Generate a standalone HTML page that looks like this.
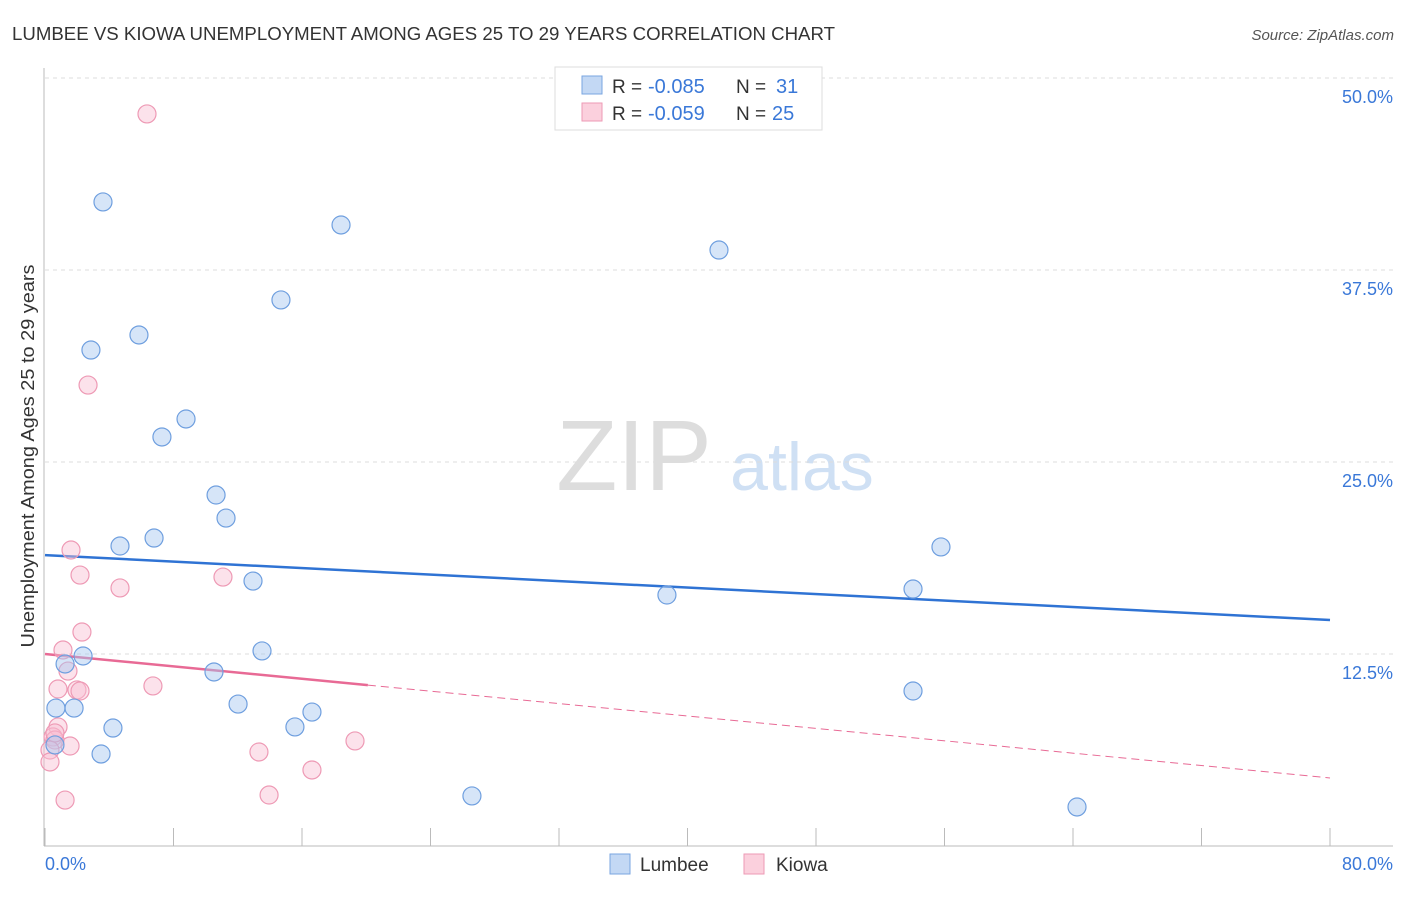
<!DOCTYPE html>
<html><head><meta charset="utf-8"><style>
body{margin:0;background:#fff;font-family:"Liberation Sans",sans-serif;}
svg text{font-family:"Liberation Sans",sans-serif;}
</style></head><body>
<svg id="c" width="1406" height="892" xmlns="http://www.w3.org/2000/svg">
<text x="12" y="40" font-size="18" fill="#333" textLength="823" lengthAdjust="spacingAndGlyphs">LUMBEE VS KIOWA UNEMPLOYMENT AMONG AGES 25 TO 29 YEARS CORRELATION CHART</text>
<text x="1394" y="40" font-size="15" fill="#555" text-anchor="end" font-style="italic">Source: ZipAtlas.com</text>
<text x="634" y="490" font-size="100" fill="#ddd" font-family="Liberation Serif" text-anchor="middle">ZIP</text>
<text x="802" y="490" font-size="68" fill="#cfe0f4" text-anchor="middle">atlas</text>
<g id="grid"></g>
<line x1="44" y1="68" x2="44" y2="846" stroke="#bbb"/>
<line x1="44" y1="846" x2="1393" y2="846" stroke="#bbb"/>
<g id="ticks"></g>
<text x="34" y="456" font-size="18" fill="#333" text-anchor="middle" textLength="383" lengthAdjust="spacingAndGlyphs" transform="rotate(-90 34 456)">Unemployment Among Ages 25 to 29 years</text>
<g id="trend"></g>
<g id="pts"></g>
<g>
<rect x="555" y="67" width="267" height="63" fill="#fff" stroke="#ddd"/>
<rect x="582" y="76" width="20" height="18" fill="#c3d8f4" stroke="#7aa6e0"/>
<rect x="582" y="103" width="20" height="18" fill="#fbd0dd" stroke="#ee9ab5"/>
<text x="612" y="93" font-size="19" fill="#333">R =</text>
<text x="648" y="93" font-size="20" fill="#3a78d8">-0.085</text>
<text x="736" y="93" font-size="19" fill="#333">N =</text>
<text x="776" y="93" font-size="20" fill="#3a78d8">31</text>
<text x="612" y="120" font-size="19" fill="#333">R =</text>
<text x="648" y="120" font-size="20" fill="#3a78d8">-0.059</text>
<text x="736" y="120" font-size="19" fill="#333">N =</text>
<text x="772" y="120" font-size="20" fill="#3a78d8">25</text>
</g>
<g>
<rect x="610" y="854" width="20" height="20" fill="#c3d8f4" stroke="#7aa6e0"/>
<text x="640" y="871" font-size="19" fill="#333">Lumbee</text>
<rect x="744" y="854" width="20" height="20" fill="#fbd0dd" stroke="#ee9ab5"/>
<text x="776" y="871" font-size="19" fill="#333">Kiowa</text>
</g>
</svg>
<script>
const xMin=0,xMax=80,yMin=0,yMax=50;
const yTicks=[12.5,25,37.5,50];
const yTickLabels=["12.5%","25.0%","37.5%","50.0%"];
const xTickLabels=["0.0%","80.0%"];
const lumbeeX=[3.61,18.43,41.96,14.69,2.86,5.85,8.78,7.28,10.65,11.27,4.67,6.79,12.95,38.72,54.04,55.78,2.37,1.25,13.51,10.52,54.04,0.68,1.81,12.02,4.23,15.56,16.62,3.49,0.62,26.58,64.25];
const lumbeeY=[41.93,40.43,38.8,35.55,32.29,33.27,27.8,26.63,22.85,21.35,19.53,20.05,17.25,16.34,16.73,19.47,12.37,11.85,12.70,11.33,10.09,8.98,8.98,9.24,7.68,7.75,8.72,5.99,6.58,3.26,2.54];
const kiowaX=[6.35,2.68,1.62,2.18,4.67,11.08,2.30,1.12,1.43,0.81,1.99,2.18,6.72,0.81,0.50,1.56,0.62,0.31,0.31,13.32,19.30,16.62,13.95,1.25,0.62];
const kiowaY=[47.66,30.01,19.27,17.64,16.80,17.51,13.93,12.76,11.39,10.22,10.16,10.09,10.42,7.75,7.10,6.51,6.90,6.25,5.47,6.12,6.84,4.95,3.32,2.99,7.36];
const lumbeeTrend=[18.94,14.71];
const kiowaTrend=[12.5,4.43];
const kiowaSolidEnd=20.1;
const X=v=>45+(v-xMin)/(xMax-xMin)*1285;
const Y=v=>846-(v-yMin)/(yMax-yMin)*768;
const NS="http://www.w3.org/2000/svg";
function mk(tag,attrs,parent){const e=document.createElementNS(NS,tag);for(const k in attrs)e.setAttribute(k,attrs[k]);document.getElementById(parent).appendChild(e);return e;}
yTicks.forEach((t,i)=>{
 const l=mk('line',{x1:45,x2:1393,y1:Y(t),y2:Y(t),stroke:'#ddd','stroke-dasharray':'4,4'},'grid');
 
 
 const tx=mk('text',{x:1393,y:Y(t)+25,'font-size':18,fill:'#3a78d8','text-anchor':'end'},'ticks');
 tx.textContent=yTickLabels[i];
 
 
});
for(let i=0;i<=10;i++){
 const v=xMin+i*(xMax-xMin)/10;
 const l=mk('line',{x1:X(v),x2:X(v),y1:828,y2:846,stroke:'#bbb'},'ticks');
 
 
}
[[xMin,'start',45],[xMax,'end',1393]].forEach((a,i)=>{
 const tx=mk('text',{x:a[2],y:870,'font-size':18,fill:'#3a78d8','text-anchor':a[1]},'ticks');
 tx.textContent=xTickLabels[i];
 
 
});
const bt=mk('line',{x1:X(xMin),y1:Y(lumbeeTrend[0]),x2:X(xMax),y2:Y(lumbeeTrend[1]),stroke:'#2f73d4','stroke-width':2.5},'trend');


const ky=x=>kiowaTrend[0]+(kiowaTrend[1]-kiowaTrend[0])*(x-xMin)/(xMax-xMin);
const kd=mk('line',{x1:X(kiowaSolidEnd),y1:Y(ky(kiowaSolidEnd)),x2:X(xMax),y2:Y(kiowaTrend[1]),stroke:'#e86a95','stroke-width':1,'stroke-dasharray':'8,5'},'trend');


const ks=mk('line',{x1:X(xMin),y1:Y(kiowaTrend[0]),x2:X(kiowaSolidEnd),y2:Y(ky(kiowaSolidEnd)),stroke:'#e86a95','stroke-width':2.5},'trend');


kiowaX.forEach((x,i)=>{
 const c=mk('circle',{cx:X(x),cy:Y(kiowaY[i]),r:9,fill:'rgba(248,190,210,0.45)',stroke:'#ee9ab5','stroke-width':1.2},'pts');
 
 
});
lumbeeX.forEach((x,i)=>{
 const c=mk('circle',{cx:X(x),cy:Y(lumbeeY[i]),r:9,fill:'rgba(165,198,240,0.45)',stroke:'#6f9fdf','stroke-width':1.2},'pts');
 
 
});
</script>
</body></html>
